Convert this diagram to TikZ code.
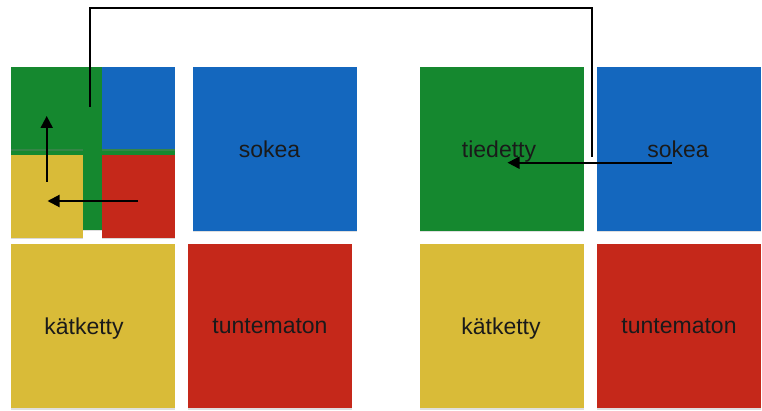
\documentclass[tikz,border=0pt]{standalone}
\usepackage{fontspec}
\setmainfont{Liberation Sans}
\usetikzlibrary{shadows,arrows.meta}
\definecolor{cgreen}{HTML}{15882F}
\definecolor{cblue}{HTML}{1467BE}
\definecolor{cred}{HTML}{C5281A}
\definecolor{cyellow}{HTML}{D9BB38}
\definecolor{ctext}{HTML}{1A1A1A}
\begin{document}
\begin{tikzpicture}[x=1pt,y=-1pt,
  sq/.style={draw=none, minimum width=164pt, minimum height=164pt, inner sep=0pt,
    drop shadow={shadow xshift=0pt, shadow yshift=-1.5pt, opacity=0.25}},
  small/.style={draw=none, minimum width=72.6pt, minimum height=82.6pt, inner sep=0pt,
    drop shadow={shadow xshift=0pt, shadow yshift=-1.5pt, opacity=0.3}},
  lbl/.style={anchor=base, inner sep=0pt, text=ctext, font=\fontsize{23}{26}\selectfont},
  conn/.style={line width=1.6pt, black},
  arr/.style={line width=2pt, black, -{Triangle[length=12pt,width=12pt]}}]
\useasboundingbox (0,0) rectangle (762,411);
% left composite
\node[sq, fill=cgreen, minimum width=164.3pt, minimum height=163.3pt] (bigG) at (92.85,148.35) {};
\node[small, fill=cgreen] (sG) at (47,108) {};
\node[small, fill=cblue] (sB) at (138.35,108) {};
\node[small, fill=cyellow] (sY) at (47,196.35) {};
\node[small, fill=cred] (sR) at (138.35,196.35) {};
% left column squares
\node[sq, fill=cblue] (lB) at (275,149) {};
\node[sq, fill=cyellow] (lY) at (93,326) {};
\node[sq, fill=cred] (lR) at (270,326) {};
% right group
\node[sq, fill=cgreen] (rG) at (501.5,149) {};
\node[sq, fill=cblue] (rB) at (679,149) {};
\node[sq, fill=cyellow] (rY) at (501.5,326) {};
\node[sq, fill=cred] (rR) at (679,326) {};
% labels
\node[lbl] (tlB) at (269.5,157.5) {sokea};
\node[lbl] (tlY) at (84,334) {k\"atketty};
\node[lbl] (tlR) at (270,333.5) {tuntematon};
\node[lbl] (trG) at (499,157.5) {tiedetty};
\node[lbl] (trB) at (678,157.5) {sokea};
\node[lbl] (trY) at (501,334) {k\"atketty};
\node[lbl] (trR) at (679,333.5) {tuntematon};
% arrows in composite
\coordinate (a1s) at (46.7,182);
\coordinate (a1e) at (46.7,116);
\draw[arr] (a1s) -- (a1e);
\coordinate (a2s) at (138,201);
\coordinate (a2e) at (47.5,201);
\draw[arr] (a2s) -- (a2e);
% long connector
\coordinate (c1) at (90,107);
\coordinate (c2) at (591.7,157);
\draw[conn] (c1) -- (90,8) -- (591.7,8) -- (c2);
% right arrow
\coordinate (a3s) at (671.7,162.7);
\coordinate (a3e) at (507.5,162.7);
\draw[arr] (a3s) -- (a3e);
\end{tikzpicture}
\end{document}
